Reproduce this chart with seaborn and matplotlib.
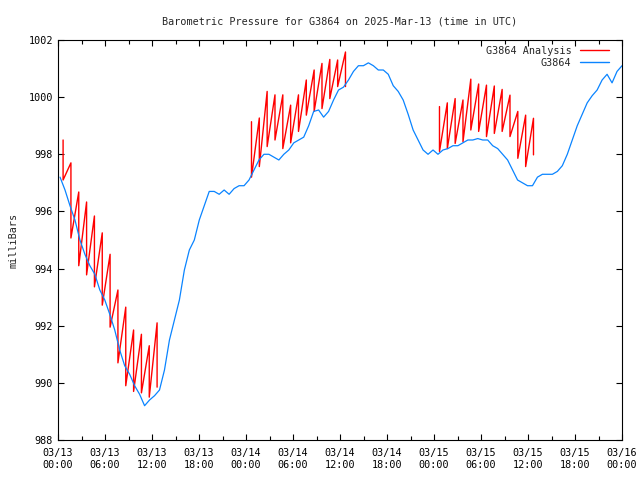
import numpy as np
import pandas as pd
import seaborn as sns
import matplotlib
matplotlib.use("Agg")
import matplotlib.pyplot as plt

# station pressure, hours since 03/13 00:00 UTC
station_mb = [
    997.2, 996.75, 996.2, 995.7, 995.0, 994.5, 994.1, 993.8, 993.25, 992.9,
    992.4, 991.85, 991.15, 990.6, 990.3, 989.9, 989.6, 989.2, 989.4, 989.55,
    989.75, 990.45, 991.5, 992.2, 992.9, 993.95, 994.65, 995.0, 995.7, 996.2,
    996.7, 996.7, 996.6, 996.75, 996.6, 996.8, 996.9, 996.9, 997.1, 997.45,
    997.8, 998.0, 998.0, 997.9, 997.8, 998.0, 998.15, 998.4, 998.5, 998.6,
    999.0, 999.5, 999.55, 999.3, 999.5, 999.9, 1000.25, 1000.35, 1000.6, 1000.9,
    1001.1, 1001.1, 1001.2, 1001.1, 1000.95, 1000.95, 1000.8, 1000.4, 1000.2, 999.9,
    999.4, 998.85, 998.5, 998.15, 998.0, 998.15, 998.0, 998.15, 998.2, 998.3,
    998.3, 998.4, 998.5, 998.5, 998.55, 998.5, 998.5, 998.3, 998.2, 998.0,
    997.8, 997.45, 997.1, 997.0, 996.9, 996.9, 997.2, 997.3, 997.3, 997.3,
    997.4, 997.6, 998.0, 998.5, 999.0, 999.4, 999.8, 1000.05, 1000.25, 1000.6,
    1000.8, 1000.5, 1000.9, 1001.1,
]
station_hours = np.linspace(0.26, 72, len(station_mb))

# analysis runs: start hour, then hourly high (before reset) and low (after reset)
run_start = [0.65, 24.7, 48.7]
run_high = [
    [998.5, 997.7, 996.68, 996.33, 995.84, 995.25, 994.5, 993.25, 992.65, 991.85, 991.7, 991.3, 992.1],
    [999.14, 999.27, 1000.2, 1000.08, 1000.08, 999.72, 1000.08, 1000.6, 1000.95, 1001.18, 1001.32, 1001.3, 1001.58],
    [999.67, 999.8, 999.95, 999.9, 1000.63, 1000.46, 1000.42, 1000.39, 1000.27, 1000.07, 999.5, 999.37, 999.26],
]
run_low = [
    [997.1, 995.07, 994.1, 993.78, 993.36, 992.72, 991.95, 990.7, 989.9, 989.7, 989.65, 989.5, 989.85],
    [997.2, 997.57, 998.27, 998.5, 998.2, 998.4, 998.8, 999.37, 999.5, 999.6, 999.95, 1000.37, 1000.37],
    [998.1, 998.2, 998.38, 998.44, 998.85, 998.8, 998.62, 998.73, 998.8, 998.62, 997.86, 997.57, 997.98],
]

tick_hours = list(range(0, 73, 6))
tick_labels = ["03/13\n00:00", "03/13\n06:00", "03/13\n12:00", "03/13\n18:00",
               "03/14\n00:00", "03/14\n06:00", "03/14\n12:00", "03/14\n18:00",
               "03/15\n00:00", "03/15\n06:00", "03/15\n12:00", "03/15\n18:00",
               "03/16\n00:00"]

rows = []
for i, (t0, hi, lo) in enumerate(zip(run_start, run_high, run_low)):
    for k in range(len(hi)):
        rows.append((i, t0 + k, hi[k]))
        rows.append((i, t0 + k, lo[k]))
analysis = pd.DataFrame(rows, columns=["run", "hour", "mb"])
station = pd.DataFrame({"hour": station_hours, "mb": station_mb})

sns.set_style("ticks")
plt.rcParams["font.family"] = ["DejaVu Sans Mono"]
fs = 7.3

fig = plt.figure(figsize=(6.4, 4.8), dpi=100)
ax = fig.add_axes([58 / 640, 40 / 480, 564 / 640, 400 / 480])

red = "#ff0000"
blue = "#0a84ff"
sns.lineplot(data=analysis, x="hour", y="mb", units="run", estimator=None, sort=False,
             color=red, lw=1.0, ax=ax)
sns.lineplot(data=station, x="hour", y="mb", color=blue, lw=0.9, ax=ax)

ax.set_xlim(0, 72)
ax.set_ylim(988, 1002)
ax.set_xticks(tick_hours)
ax.set_xticklabels(tick_labels)
ax.set_xticks(range(3, 72, 6), minor=True)
ax.set_yticks(range(988, 1003, 2))
ax.tick_params(which="both", direction="in", top=True, right=True, length=4, width=0.8,
               labelsize=fs, colors="black")
ax.tick_params(which="minor", length=3)
ax.tick_params(axis="x", pad=6)
for s in ax.spines.values():
    s.set_linewidth(0.8)
    s.set_color("black")

ax.set_xlabel("")
ax.set_ylabel("milliBars", fontsize=fs, labelpad=7)
ax.set_title("Barometric Pressure for G3864 on 2025-Mar-13 (time in UTC)", fontsize=fs, pad=11)

h1 = plt.Line2D([], [], color=red, lw=1.0)
h2 = plt.Line2D([], [], color=blue, lw=1.0)
ax.legend([h1, h2], ["G3864 Analysis", "G3864"], loc="upper right", frameon=False,
          bbox_to_anchor=(0.982, 0.9925), markerfirst=False, handlelength=2.8,
          handletextpad=0.9, labelspacing=0.15, borderaxespad=0.0, borderpad=0.3,
          fontsize=fs)

fig.savefig("out.png", dpi=100)
